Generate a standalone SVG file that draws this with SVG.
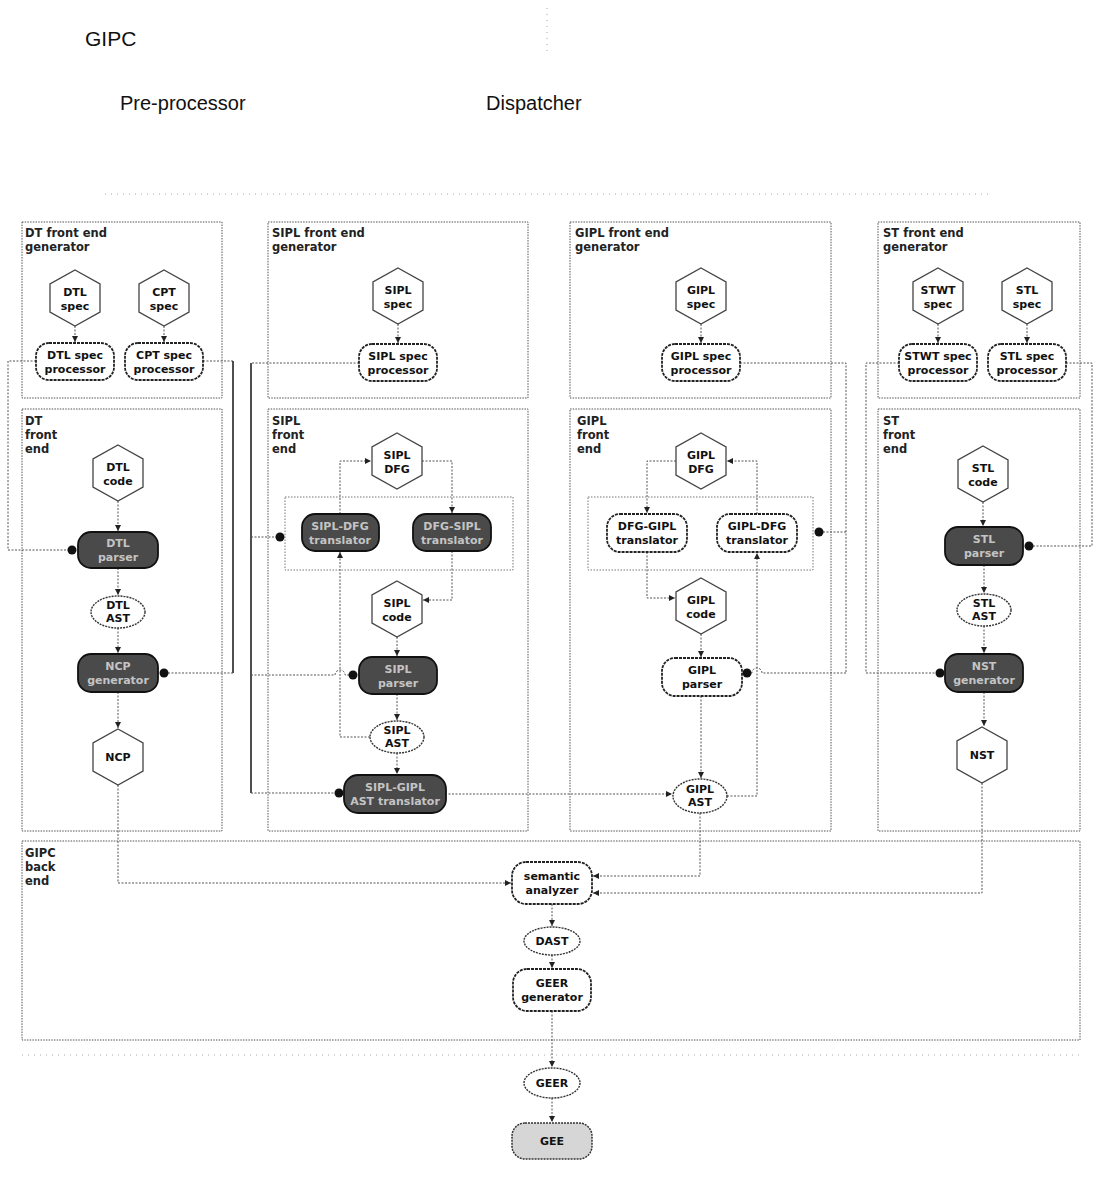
<svg xmlns="http://www.w3.org/2000/svg" width="1099" height="1183" viewBox="0 0 1099 1183">
<style>
.bg{fill:#fff}
.title{font-family:"Liberation Sans",Arial,sans-serif;fill:#111}
.panel{fill:none;stroke:#555;stroke-width:1;stroke-dasharray:1.5 1.2}
.grp{fill:none;stroke:#777;stroke-width:1;stroke-dasharray:1.5 1.5}
.plabel{font-family:"DejaVu Sans",sans-serif;font-size:11.5px;font-weight:bold;fill:#222}
.proc{fill:#fff;stroke:#222;stroke-width:1.8;stroke-dasharray:3 1}
.dark{fill:#4a4a4a;stroke:#111;stroke-width:1.8}
.hex{fill:#fff;stroke:#444;stroke-width:1.3}
.ell{fill:#fff;stroke:#333;stroke-width:1.4;stroke-dasharray:2 1}
.gee{fill:#d6d6d6;stroke:#333;stroke-width:1.5;stroke-dasharray:2 1}
.nt{font-family:"DejaVu Sans",sans-serif;font-size:11px;font-weight:bold;fill:#111;text-anchor:middle}
.ntd{fill:#c4c4c4}
.conn{fill:none;stroke:#555;stroke-width:1;stroke-dasharray:2 1.5}
.solid{fill:none;stroke:#222;stroke-width:1.6}
.faint{fill:none;stroke:#aaa;stroke-width:1;stroke-dasharray:1 5}
</style>
<defs>
<marker id="arr" viewBox="0 0 6 6" refX="6" refY="3" markerWidth="6" markerHeight="6" markerUnits="userSpaceOnUse" orient="auto"><path d="M0,0 L6,3 L0,6 z" fill="#222"/></marker>
<marker id="ball" viewBox="0 0 10 10" refX="5" refY="5" markerWidth="10" markerHeight="10" markerUnits="userSpaceOnUse" orient="auto"><circle cx="5" cy="5" r="4.5" fill="#111"/></marker>
</defs>
<rect class="bg" x="0" y="0" width="1099" height="1183"/>

<g id="header">
<text class="title" x="85" y="46" font-size="21">GIPC</text>
<text class="title" x="120" y="110" font-size="20">Pre-processor</text>
<text class="title" x="486" y="110" font-size="20">Dispatcher</text>
<path class="faint" d="M547,8 V56"/>
<path class="faint" d="M105,194 H990"/>
<path class="faint" d="M22,1055 H1080"/>
</g>

<g id="panels">
<rect class="panel" x="22" y="222" width="200" height="176"/>
<text class="plabel" x="25" y="237">DT front end</text><text class="plabel" x="25" y="251">generator</text>
<rect class="panel" x="268" y="222" width="260" height="176"/>
<text class="plabel" x="272" y="237">SIPL front end</text><text class="plabel" x="272" y="251">generator</text>
<rect class="panel" x="570" y="222" width="261" height="176"/>
<text class="plabel" x="575" y="237">GIPL front end</text><text class="plabel" x="575" y="251">generator</text>
<rect class="panel" x="878" y="222" width="202" height="176"/>
<text class="plabel" x="883" y="237">ST front end</text><text class="plabel" x="883" y="251">generator</text>

<rect class="panel" x="22" y="409" width="200" height="422"/>
<text class="plabel" x="25" y="425">DT</text><text class="plabel" x="25" y="439">front</text><text class="plabel" x="25" y="453">end</text>
<rect class="panel" x="268" y="409" width="260" height="422"/>
<text class="plabel" x="272" y="425">SIPL</text><text class="plabel" x="272" y="439">front</text><text class="plabel" x="272" y="453">end</text>
<rect class="panel" x="570" y="409" width="261" height="422"/>
<text class="plabel" x="577" y="425">GIPL</text><text class="plabel" x="577" y="439">front</text><text class="plabel" x="577" y="453">end</text>
<rect class="panel" x="878" y="409" width="202" height="422"/>
<text class="plabel" x="883" y="425">ST</text><text class="plabel" x="883" y="439">front</text><text class="plabel" x="883" y="453">end</text>

<rect class="panel" x="22" y="841" width="1058" height="199"/>
<text class="plabel" x="25" y="857">GIPC</text><text class="plabel" x="25" y="871">back</text><text class="plabel" x="25" y="885">end</text>

<rect class="grp" x="285" y="497" width="228" height="73"/>
<rect class="grp" x="588" y="497" width="225" height="73"/>
</g>

<g id="connectors">
<path class="conn" marker-end="url(#arr)" d="M75,326 V342"/>
<path class="conn" marker-end="url(#arr)" d="M164,326 V342"/>
<path class="conn" marker-end="url(#arr)" d="M398,324 V343"/>
<path class="conn" marker-end="url(#arr)" d="M701,324 V343"/>
<path class="conn" marker-end="url(#arr)" d="M938,324 V343"/>
<path class="conn" marker-end="url(#arr)" d="M1027,324 V343"/>
<path class="conn" marker-end="url(#ball)" d="M36,361 H8 V550 H72"/>
<path class="conn" d="M203,361 H233"/>
<path class="solid" d="M233,361 V673"/>
<path class="conn" marker-end="url(#ball)" d="M233,673 H164"/>
<path class="conn" marker-end="url(#arr)" d="M118,501 V531"/>
<path class="conn" marker-end="url(#arr)" d="M118,568 V595"/>
<path class="conn" marker-end="url(#arr)" d="M118,628 V653"/>
<path class="conn" marker-end="url(#arr)" d="M118,692 V728"/>
<path class="conn" marker-end="url(#arr)" d="M118,785 V883 H511"/>
<path class="conn" d="M359,363 H251"/>
<path class="solid" d="M251,363 V793"/>
<path class="conn" marker-end="url(#ball)" d="M251,793 H339"/>
<path class="conn" marker-end="url(#ball)" d="M251,537 H280"/>
<path class="conn" marker-end="url(#ball)" d="M251,675 H335 A5,5 0 0 1 345,675 H353"/>
<path class="conn" marker-end="url(#arr)" d="M340,514 V461 H371"/>
<path class="conn" marker-end="url(#arr)" d="M422,461 H452 V513"/>
<path class="conn" marker-end="url(#arr)" d="M452,551 V600 H423"/>
<path class="conn" marker-end="url(#arr)" d="M397,637 V656"/>
<path class="conn" marker-end="url(#arr)" d="M397,694 V720"/>
<path class="conn" marker-end="url(#arr)" d="M397,753 V774"/>
<path class="conn" marker-end="url(#arr)" d="M370,737 H340 V552"/>
<path class="conn" marker-end="url(#arr)" d="M445,794 H672"/>
<path class="conn" d="M740,363 H846 V673"/>
<path class="conn" marker-end="url(#ball)" d="M846,532 H819"/>
<path class="conn" marker-end="url(#ball)" d="M846,673 H762 A5,5 0 0 0 752,673 H747"/>
<path class="conn" marker-end="url(#arr)" d="M676,461 H647 V513"/>
<path class="conn" marker-end="url(#arr)" d="M757,514 V461 H727"/>
<path class="conn" marker-end="url(#arr)" d="M647,552 V598 H675"/>
<path class="conn" marker-end="url(#arr)" d="M701,634 V657"/>
<path class="conn" marker-end="url(#arr)" d="M701,696 V778"/>
<path class="conn" marker-end="url(#arr)" d="M727,796 H757 V553"/>
<path class="conn" marker-end="url(#arr)" d="M700,813 V876 H593"/>
<path class="conn" marker-end="url(#ball)" d="M1066,363 H1092 V546 H1029"/>
<path class="conn" marker-end="url(#ball)" d="M899,363 H866 V673 H940"/>
<path class="conn" marker-end="url(#arr)" d="M983,502 V526"/>
<path class="conn" marker-end="url(#arr)" d="M984,565 V593"/>
<path class="conn" marker-end="url(#arr)" d="M984,626 V653"/>
<path class="conn" marker-end="url(#arr)" d="M984,692 V726"/>
<path class="conn" marker-end="url(#arr)" d="M982,783 V893 H593"/>
<path class="conn" marker-end="url(#arr)" d="M552,904 V926"/>
<path class="conn" marker-end="url(#arr)" d="M552,955 V968"/>
<path class="conn" marker-end="url(#arr)" d="M552,1011 V1067"/>
<path class="conn" marker-end="url(#arr)" d="M552,1098 V1122"/>
</g>

<g id="n-dtl-spec"><polygon class="hex" points="75,270 100,284 100,312 75,326 50,312 50,284"/><text class="nt" x="75" y="296">DTL</text><text class="nt" x="75" y="310">spec</text></g>
<g id="n-cpt-spec"><polygon class="hex" points="164,270 189,284 189,312 164,326 139,312 139,284"/><text class="nt" x="164" y="296">CPT</text><text class="nt" x="164" y="310">spec</text></g>
<g id="n-dtl-proc"><rect class="proc" x="36" y="343" width="78" height="37" rx="13"/><text class="nt" x="75" y="359">DTL spec</text><text class="nt" x="75" y="373">processor</text></g>
<g id="n-cpt-proc"><rect class="proc" x="125" y="343" width="78" height="37" rx="13"/><text class="nt" x="164" y="359">CPT spec</text><text class="nt" x="164" y="373">processor</text></g>

<g id="n-sipl-spec"><polygon class="hex" points="398,268 423,282 423,310 398,324 373,310 373,282"/><text class="nt" x="398" y="294">SIPL</text><text class="nt" x="398" y="308">spec</text></g>
<g id="n-sipl-proc"><rect class="proc" x="359" y="344" width="78" height="37" rx="13"/><text class="nt" x="398" y="360">SIPL spec</text><text class="nt" x="398" y="374">processor</text></g>
<g id="n-gipl-spec"><polygon class="hex" points="701,268 726,282 726,310 701,324 676,310 676,282"/><text class="nt" x="701" y="294">GIPL</text><text class="nt" x="701" y="308">spec</text></g>
<g id="n-gipl-proc"><rect class="proc" x="662" y="344" width="78" height="37" rx="13"/><text class="nt" x="701" y="360">GIPL spec</text><text class="nt" x="701" y="374">processor</text></g>
<g id="n-stwt-spec"><polygon class="hex" points="938,268 963,282 963,310 938,324 913,310 913,282"/><text class="nt" x="938" y="294">STWT</text><text class="nt" x="938" y="308">spec</text></g>
<g id="n-stl-spec"><polygon class="hex" points="1027,268 1052,282 1052,310 1027,324 1002,310 1002,282"/><text class="nt" x="1027" y="294">STL</text><text class="nt" x="1027" y="308">spec</text></g>
<g id="n-stwt-proc"><rect class="proc" x="899" y="344" width="78" height="37" rx="13"/><text class="nt" x="938" y="360">STWT spec</text><text class="nt" x="938" y="374">processor</text></g>
<g id="n-stl-proc"><rect class="proc" x="988" y="344" width="78" height="37" rx="13"/><text class="nt" x="1027" y="360">STL spec</text><text class="nt" x="1027" y="374">processor</text></g>

<g id="n-dtl-code"><polygon class="hex" points="118,445 143,459 143,487 118,501 93,487 93,459"/><text class="nt" x="118" y="471">DTL</text><text class="nt" x="118" y="485">code</text></g>
<g id="n-dtl-parser"><rect class="dark" x="78" y="532" width="80" height="36" rx="13"/><text class="nt ntd" x="118" y="547">DTL</text><text class="nt ntd" x="118" y="561">parser</text></g>
<g id="n-dtl-ast"><ellipse class="ell" cx="118" cy="612" rx="27" ry="16"/><text class="nt" x="118" y="609">DTL</text><text class="nt" x="118" y="622">AST</text></g>
<g id="n-ncp-gen"><rect class="dark" x="78" y="654" width="80" height="38" rx="13"/><text class="nt ntd" x="118" y="670">NCP</text><text class="nt ntd" x="118" y="684">generator</text></g>
<g id="n-ncp"><polygon class="hex" points="118,729 143,743 143,771 118,785 93,771 93,743"/><text class="nt" x="118" y="761">NCP</text></g>

<g id="n-sipl-dfg"><polygon class="hex" points="397,433 422,447 422,475 397,489 372,475 372,447"/><text class="nt" x="397" y="459">SIPL</text><text class="nt" x="397" y="473">DFG</text></g>
<g id="n-sipl-dfg-tr"><rect class="dark" x="302" y="514" width="77" height="37" rx="13"/><text class="nt ntd" x="340" y="530">SIPL-DFG</text><text class="nt ntd" x="340" y="544">translator</text></g>
<g id="n-dfg-sipl-tr"><rect class="dark" x="413" y="514" width="78" height="37" rx="13"/><text class="nt ntd" x="452" y="530">DFG-SIPL</text><text class="nt ntd" x="452" y="544">translator</text></g>
<g id="n-sipl-code"><polygon class="hex" points="397,581 422,595 422,623 397,637 372,623 372,595"/><text class="nt" x="397" y="607">SIPL</text><text class="nt" x="397" y="621">code</text></g>
<g id="n-sipl-parser"><rect class="dark" x="359" y="657" width="78" height="37" rx="13"/><text class="nt ntd" x="398" y="673">SIPL</text><text class="nt ntd" x="398" y="687">parser</text></g>
<g id="n-sipl-ast"><ellipse class="ell" cx="397" cy="737" rx="27" ry="16"/><text class="nt" x="397" y="734">SIPL</text><text class="nt" x="397" y="747">AST</text></g>
<g id="n-sipl-gipl-tr"><rect class="dark" x="344" y="775" width="102" height="38" rx="14"/><text class="nt ntd" x="395" y="791">SIPL-GIPL</text><text class="nt ntd" x="395" y="805" font-size="10.5">AST translator</text></g>

<g id="n-gipl-dfg"><polygon class="hex" points="701,433 726,447 726,475 701,489 676,475 676,447"/><text class="nt" x="701" y="459">GIPL</text><text class="nt" x="701" y="473">DFG</text></g>
<g id="n-dfg-gipl-tr"><rect class="proc" x="607" y="514" width="80" height="38" rx="13"/><text class="nt" x="647" y="530">DFG-GIPL</text><text class="nt" x="647" y="544">translator</text></g>
<g id="n-gipl-dfg-tr"><rect class="proc" x="717" y="514" width="80" height="38" rx="13"/><text class="nt" x="757" y="530">GIPL-DFG</text><text class="nt" x="757" y="544">translator</text></g>
<g id="n-gipl-code"><polygon class="hex" points="701,578 726,592 726,620 701,634 676,620 676,592"/><text class="nt" x="701" y="604">GIPL</text><text class="nt" x="701" y="618">code</text></g>
<g id="n-gipl-parser"><rect class="proc" x="662" y="658" width="80" height="38" rx="13"/><text class="nt" x="702" y="674">GIPL</text><text class="nt" x="702" y="688">parser</text></g>
<g id="n-gipl-ast"><ellipse class="ell" cx="700" cy="796" rx="27" ry="17"/><text class="nt" x="700" y="793">GIPL</text><text class="nt" x="700" y="806">AST</text></g>

<g id="n-stl-code"><polygon class="hex" points="983,446 1008,460 1008,488 983,502 958,488 958,460"/><text class="nt" x="983" y="472">STL</text><text class="nt" x="983" y="486">code</text></g>
<g id="n-stl-parser"><rect class="dark" x="945" y="527" width="78" height="38" rx="13"/><text class="nt ntd" x="984" y="543">STL</text><text class="nt ntd" x="984" y="557">parser</text></g>
<g id="n-stl-ast"><ellipse class="ell" cx="984" cy="610" rx="27" ry="16"/><text class="nt" x="984" y="607">STL</text><text class="nt" x="984" y="620">AST</text></g>
<g id="n-nst-gen"><rect class="dark" x="945" y="654" width="78" height="38" rx="13"/><text class="nt ntd" x="984" y="670">NST</text><text class="nt ntd" x="984" y="684">generator</text></g>
<g id="n-nst"><polygon class="hex" points="982,727 1007,741 1007,769 982,783 957,769 957,741"/><text class="nt" x="982" y="759">NST</text></g>

<g id="n-semantic"><rect class="proc" x="512" y="862" width="80" height="42" rx="14"/><text class="nt" x="552" y="880">semantic</text><text class="nt" x="552" y="894">analyzer</text></g>
<g id="n-dast"><ellipse class="ell" cx="552" cy="941" rx="28" ry="14"/><text class="nt" x="552" y="945">DAST</text></g>
<g id="n-geer-gen"><rect class="proc" x="513" y="969" width="78" height="42" rx="14"/><text class="nt" x="552" y="987">GEER</text><text class="nt" x="552" y="1001">generator</text></g>
<g id="n-geer"><ellipse class="ell" cx="552" cy="1083" rx="28" ry="15"/><text class="nt" x="552" y="1087">GEER</text></g>
<g id="n-gee"><rect class="gee" x="512" y="1123" width="80" height="36" rx="13"/><text class="nt" x="552" y="1145">GEE</text></g>
</svg>
